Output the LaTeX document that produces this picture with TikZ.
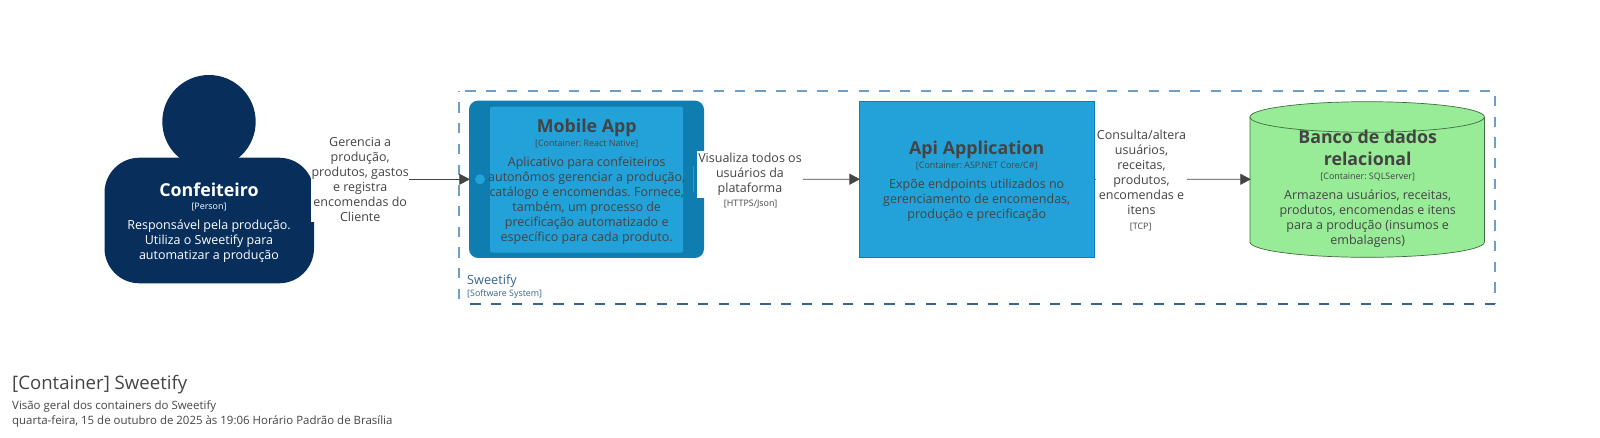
\documentclass[tikz,border=0pt]{standalone}
\usepackage{fontspec}
\usepackage{xcolor}
\setmainfont{Open Sans}
\frenchspacing
\definecolor{navy}{RGB}{8,47,92}
\definecolor{appdark}{RGB}{15,125,176}
\definecolor{appblue}{RGB}{35,162,217}
\definecolor{dbgreen}{RGB}{152,236,152}
\definecolor{dbline}{RGB}{62,110,62}
\definecolor{ink}{RGB}{68,68,68}
\definecolor{framelight}{RGB}{110,157,197}
\definecolor{framedark}{RGB}{52,100,145}
\usetikzlibrary{arrows.meta}
\tikzset{
  titletext/.style={align=center,font=\fontsize{17.8}{21.7}\selectfont\bfseries,text=ink,inner sep=0pt},
  techtext/.style={align=center,font=\fontsize{8.9}{10}\selectfont,text=ink,inner sep=0pt},
  desctext/.style={align=center,font=\fontsize{12.5}{15}\selectfont,text=ink,inner sep=0pt},
  linklabel/.style={align=center,font=\fontsize{12.5}{15}\selectfont,text=ink,fill=white,inner sep=0pt},
  link/.style={draw=ink,-{Triangle[length=10.5pt,width=11pt]},line width=0.8pt,shorten >=-1pt},
  frameline/.style={line width=1.5pt,dash pattern=on 10.3pt off 10.4pt}
}
\begin{document}
\begin{tikzpicture}[x=1pt,y=-1pt]
  % Page
  \useasboundingbox (0,0) rectangle (1600,437);

  % System frame
  \draw[frameline,framelight] (1490,91) -- (459,91);
  \draw[frameline,framelight] (459,299) -- (459,91);
  \draw[frameline,framelight] (1495,96) -- (1495,304);
  \draw[frameline,framedark] (1495,304) -- (465,304);
  \node[anchor=west,inner sep=0pt,text=framedark,font=\fontsize{12.7}{15}\selectfont] (systemname) at (467,281) {Sweetify};
  \node[anchor=west,inner sep=0pt,text=framedark,font=\fontsize{8.9}{10}\selectfont] (systemtech) at (467,294.5) {[Software System]};

  % Person
  \fill[navy] (209,121.7) circle (46.7pt);
  \node[fill=navy,rounded corners=35pt,minimum width=209.5pt,minimum height=125.6pt,inner sep=0pt] (person) at (209.25,220.5) {};
  \node[titletext,text=white] (personname) at (209,190) {Confeiteiro};
  \node[techtext,text=white] (persontech) at (209,207.5) {[Person]};
  \node[desctext,text=white] (persondesc) at (209,241.3) {Responsável pela produção.\\Utiliza o Sweetify para\\automatizar a produção};

  % Mobile App
  \node[fill=appdark,rounded corners=9pt,minimum width=235pt,minimum height=157.3pt,inner sep=0pt] (mobile) at (586.5,179.3) {};
  \fill[appblue,rounded corners=2pt] (490,106.7) rectangle (683,252.7);
  \fill[appblue] (480,179.3) circle (5pt);
  \draw[appblue,line width=0.6pt] (693.5,166) -- (693.5,192);
  \node[titletext] (mobilename) at (586.7,127.5) {Mobile App};
  \node[techtext] (mobiletech) at (586.7,143.8) {[Container: React Native]};
  \node[desctext] (mobiledesc) at (586.7,201) {Aplicativo para confeiteiros\\autonômos gerenciar a produção,\\catálogo e encomendas. Fornece,\\também, um processo de\\precificação automatizado e\\específico para cada produto.};

  % Api Application
  \node[fill=appblue,draw=appdark,line width=0.7pt,minimum width=235pt,minimum height=156.3pt,inner sep=0pt] (api) at (976.8,179.2) {};
  \node[titletext] (apiname) at (976.7,150) {Api Application};
  \node[techtext] (apitech) at (976.7,166) {[Container: ASP.NET Core/C\#]};
  \node[desctext] (apidesc) at (976.7,200) {Expõe endpoints utilizados no\\gerenciamento de encomendas,\\produção e precificação};

  % Banco de dados
  \draw[dbline,fill=dbgreen,line width=0.7pt] (1250,117) arc[start angle=180,end angle=0,x radius=117.2pt,y radius=15.3pt]
    -- (1484.4,242) arc[start angle=0,end angle=-180,x radius=117.2pt,y radius=15.3pt] -- cycle;
  \draw[dbline,line width=0.7pt] (1250,117) arc[start angle=180,end angle=360,x radius=117.2pt,y radius=15.3pt];
  \node[minimum width=234.4pt,minimum height=155.6pt,inner sep=0pt] (database) at (1367.2,179.3) {};
  \node[titletext] (databasename) at (1367.7,147.5) {Banco de dados\\relacional};
  \node[techtext] (databasetech) at (1367.7,176.8) {[Container: SQLServer]};
  \node[desctext] (databasedesc) at (1367.7,218.5) {Armazena usuários, receitas,\\produtos, encomendas e itens\\para a produção (insumos e\\embalagens)};

  % Connectors
  \draw[link] (person.east |- mobile.west) -- (mobile.west);
  \draw[link] (mobile.east) -- (api.west);
  \draw[link] (api.east) -- (database.west);

  % Labels
  \node[linklabel,minimum width=97.5pt] (managelabel) at (360.2,179.5) {Gerencia a\\produção,\\produtos, gastos\\e registra\\encomendas do\\Cliente};
  \node[linklabel,minimum width=106pt,minimum height=47pt] (viewlabel) at (750,174.2) {Visualiza todos os\\usuários da\\plataforma};
  \node[techtext] (viewtech) at (750.7,204.5) {[HTTPS/Json]};
  \node[linklabel,minimum width=91pt] (querylabel) at (1141.5,172.5) {Consulta/altera\\usuários,\\receitas,\\produtos,\\encomendas e\\itens};
  \node[techtext] (querytech) at (1140.7,226.8) {[TCP]};

  % Caption
  \node[anchor=west,inner sep=0pt,text=ink,font=\fontsize{18.6}{22}\selectfont] (captiontitle) at (12,385) {[Container] Sweetify};
  \node[anchor=west,inner sep=0pt,text=ink,font=\fontsize{11.45}{14}\selectfont] (captionsub) at (12,406) {Visão geral dos containers do Sweetify};
  \node[anchor=west,inner sep=0pt,text=ink,font=\fontsize{11.45}{14}\selectfont] (captiondate) at (12,421.5) {quarta-feira, 15 de outubro de 2025 às 19:06 Horário Padrão de Brasília};
\end{tikzpicture}
\end{document}
